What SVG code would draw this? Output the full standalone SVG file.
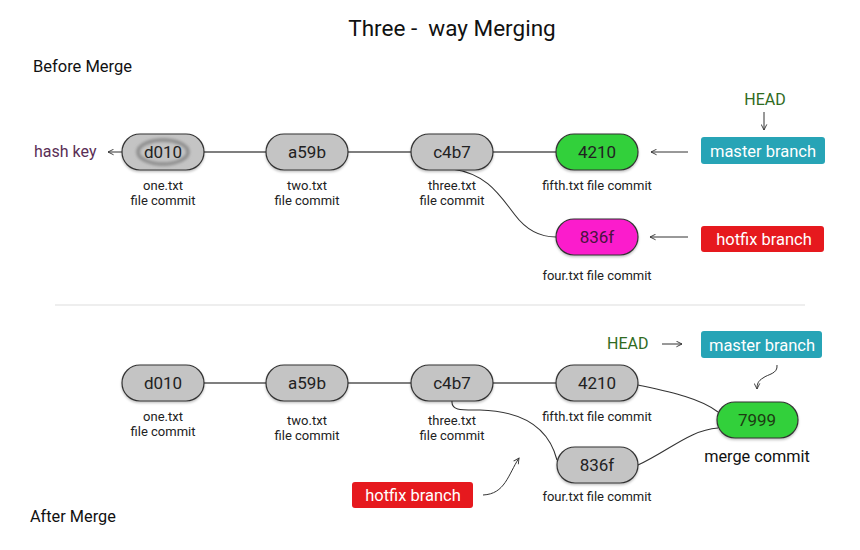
<svg xmlns="http://www.w3.org/2000/svg" width="860" height="550" viewBox="0 0 860 550">
<defs>
<style>
text{font-family:Roboto,"Liberation Sans",sans-serif;}
.node{fill:#c4c4c4;stroke:#333;stroke-width:1.2;}
.nt{font-size:17px;fill:#222;text-anchor:middle;}
.lbl{font-size:13px;fill:#222;text-anchor:middle;}
.edge{fill:none;stroke:#555;stroke-width:1.6;}
.thin{fill:none;stroke:#333;stroke-width:1.1;}
.arr{fill:none;stroke:#333;stroke-width:1;}
.btn{font-size:16.5px;fill:#fff;text-anchor:middle;}
.head{font-size:16px;fill:#2f6b22;}
</style>
<marker id="ah" viewBox="0 0 10 10" refX="9" refY="5" markerWidth="7" markerHeight="7" orient="auto-start-reverse" markerUnits="userSpaceOnUse">
<path d="M1,1 L9,5 L1,9" fill="none" stroke="#333" stroke-width="1.3"/>
</marker>
<filter id="sh" x="-20%" y="-30%" width="140%" height="170%">
<feDropShadow dx="0" dy="1.5" stdDeviation="1.2" flood-color="#000" flood-opacity="0.25"/>
</filter>
<filter id="blur" x="-30%" y="-50%" width="160%" height="200%">
<feGaussianBlur stdDeviation="1.6"/>
</filter>
</defs>
<rect width="860" height="550" fill="#fff"/>

<text x="452" y="36" font-size="22.5" fill="#111" text-anchor="middle">Three -&#160; way Merging</text>
<text x="33" y="72" font-size="16.5" fill="#111">Before Merge</text>
<text x="30" y="522" font-size="16.3" fill="#111">After Merge</text>
<line x1="55" y1="305" x2="805" y2="305" stroke="#ddd" stroke-width="1.2"/>

<g id="connectors">
<line class="edge" x1="204" y1="152" x2="266" y2="152"/>
<line class="edge" x1="348" y1="152" x2="411" y2="152"/>
<line class="edge" x1="493" y1="152" x2="556" y2="152"/>
<path class="thin" d="M452,169 C488,174 500,196 515,215 C527,231 540,237 556,237"/>
<line class="arr" x1="145" y1="152" x2="108" y2="152" marker-end="url(#ah)"/>
<line class="arr" x1="764" y1="112" x2="764" y2="130" marker-end="url(#ah)"/>
<line class="arr" x1="688" y1="152" x2="651" y2="152" marker-end="url(#ah)"/>
<line class="arr" x1="688" y1="237" x2="650" y2="237" marker-end="url(#ah)"/>
<line class="edge" x1="204" y1="383" x2="266" y2="383"/>
<line class="edge" x1="348" y1="383" x2="411" y2="383"/>
<line class="edge" x1="493" y1="383" x2="556" y2="383"/>
<path class="thin" d="M452,401 C451,411 462,410 480,410 C520,411 548,425 557,460"/>
<path class="thin" d="M638,385 C670,392 700,398 718,412"/>
<path class="thin" d="M638,465 C670,450 690,430 718,428"/>
<line class="arr" x1="662" y1="344" x2="682" y2="344" marker-end="url(#ah)"/>
<path class="arr" d="M777,365 C778,374 768,374 763,378 C758,381 757,384 757,389" marker-end="url(#ah)"/>
<path class="arr" d="M483,495 C505,494 508,475 519,458" marker-end="url(#ah)"/>
</g>

<g id="hashkey">
<text x="34" y="157" font-size="16" fill="#5a2e55">hash key</text>
</g>

<g id="b-d010">
<rect class="node" x="122" y="134" width="82" height="36" rx="18" filter="url(#sh)"/>
<ellipse cx="163" cy="152" rx="25" ry="12" fill="none" stroke="#8a8a8a" stroke-width="3.5" filter="url(#blur)"/>
<text class="nt" x="163" y="158">d010</text>
<text class="lbl" x="163" y="190">one.txt</text>
<text class="lbl" x="163" y="205">file commit</text>
</g>
<g id="b-a59b">
<rect class="node" x="266" y="134" width="82" height="36" rx="18" filter="url(#sh)"/>
<text class="nt" x="307" y="158">a59b</text>
<text class="lbl" x="307" y="190">two.txt</text>
<text class="lbl" x="307" y="205">file commit</text>
</g>
<g id="b-c4b7">
<rect class="node" x="411" y="134" width="82" height="36" rx="18" filter="url(#sh)"/>
<text class="nt" x="452" y="158">c4b7</text>
<text class="lbl" x="452" y="190">three.txt</text>
<text class="lbl" x="452" y="205">file commit</text>
</g>
<g id="b-4210">
<rect class="node" x="556" y="134" width="82" height="36" rx="18" style="fill:#32d03a" filter="url(#sh)"/>
<text class="nt" x="597" y="158">4210</text>
<text class="lbl" x="597" y="190">fifth.txt file commit</text>
</g>
<g id="b-836f">
<rect class="node" x="556" y="219" width="82" height="36" rx="18" style="fill:#fb1fcc" filter="url(#sh)"/>
<text class="nt" x="597" y="243" style="fill:#4a1240">836f</text>
<text class="lbl" x="597" y="280">four.txt file commit</text>
</g>
<g id="b-head">
<text class="head" x="765" y="105" text-anchor="middle">HEAD</text>
</g>
<g id="b-master">
<rect x="701" y="137" width="124" height="27" rx="3" fill="#27a4b6"/>
<text class="btn" x="763" y="157">master branch</text>
</g>
<g id="b-hotfix">
<rect x="701" y="226" width="123" height="26" rx="3" fill="#e6191e"/>
<text class="btn" x="764" y="245">hotfix branch</text>
</g>

<g id="a-d010">
<rect class="node" x="122" y="365" width="82" height="36" rx="18" filter="url(#sh)"/>
<text class="nt" x="163" y="389">d010</text>
<text class="lbl" x="163" y="421">one.txt</text>
<text class="lbl" x="163" y="436">file commit</text>
</g>
<g id="a-a59b">
<rect class="node" x="266" y="365" width="82" height="36" rx="18" filter="url(#sh)"/>
<text class="nt" x="307" y="389">a59b</text>
<text class="lbl" x="307" y="425">two.txt</text>
<text class="lbl" x="307" y="440">file commit</text>
</g>
<g id="a-c4b7">
<rect class="node" x="411" y="365" width="82" height="36" rx="18" filter="url(#sh)"/>
<text class="nt" x="452" y="389">c4b7</text>
<text class="lbl" x="452" y="425">three.txt</text>
<text class="lbl" x="452" y="440">file commit</text>
</g>
<g id="a-4210">
<rect class="node" x="556" y="365" width="82" height="36" rx="18" filter="url(#sh)"/>
<text class="nt" x="597" y="389">4210</text>
<text class="lbl" x="597" y="421">fifth.txt file commit</text>
</g>
<g id="a-836f">
<rect class="node" x="557" y="447" width="81" height="36" rx="18" filter="url(#sh)"/>
<text class="nt" x="597" y="471">836f</text>
<text class="lbl" x="597" y="501">four.txt file commit</text>
</g>
<g id="a-7999">
<rect class="node" x="717" y="402" width="81" height="36" rx="18" style="fill:#32d03a" filter="url(#sh)"/>
<text class="nt" x="757" y="426" style="fill:#1d3b12">7999</text>
<text x="757" y="462" font-size="16.3" fill="#111" text-anchor="middle">merge commit</text>
</g>
<g id="a-head">
<text class="head" x="607" y="349">HEAD</text>
</g>
<g id="a-master">
<rect x="701" y="331" width="121" height="27" rx="3" fill="#27a4b6"/>
<text class="btn" x="762" y="351">master branch</text>
</g>
<g id="a-hotfix">
<rect x="352" y="482" width="121" height="26" rx="3" fill="#e6191e"/>
<text class="btn" x="413" y="501">hotfix branch</text>
</g>
</svg>
